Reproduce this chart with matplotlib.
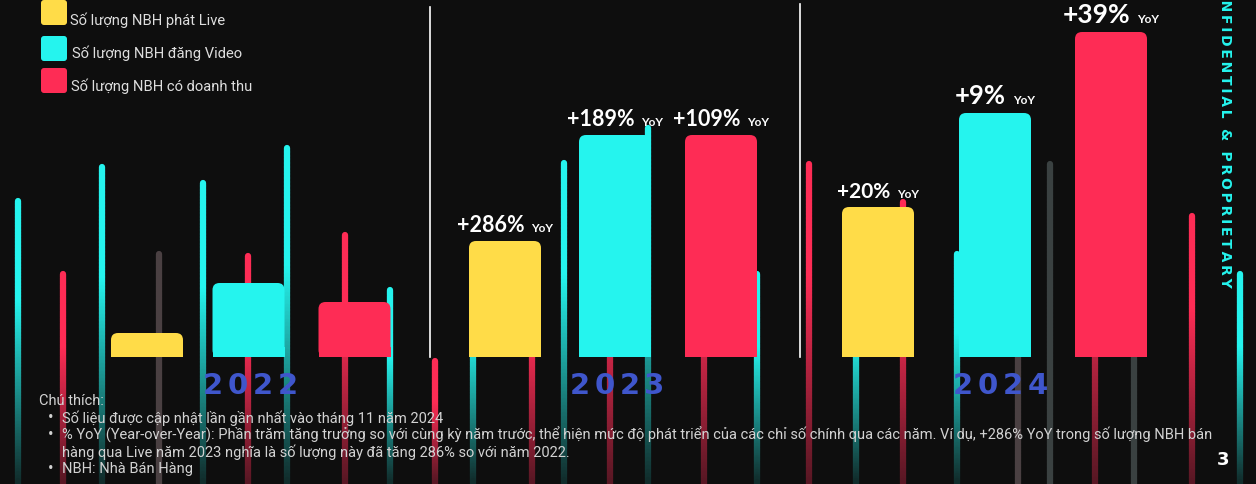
import numpy as np
import matplotlib.pyplot as plt
from matplotlib.patches import FancyBboxPatch
from matplotlib.collections import LineCollection
from matplotlib.colors import to_rgb

# data (bar heights, arbitrary units)
years = ["2022", "2023", "2024"]
series_names = ["Số lượng NBH phát Live", "Số lượng NBH đăng Video", "Số lượng NBH có doanh thu"]
live = [24, 116, 150]
video = [74, 222, 244]
revenue = [55, 222, 325]
yoy_live = ["", "+286%", "+20%"]
yoy_video = ["", "+189%", "+9%"]
yoy_revenue = ["", "+109%", "+39%"]

notes_title = "Chú thích:"
notes = [
    "Số liệu được cập nhật lần gần nhất vào tháng 11 năm 2024",
    "% YoY (Year-over-Year): Phần trăm tăng trưởng so với cùng kỳ năm trước, thể hiện mức độ phát triển của các chỉ số chính qua các năm. Ví dụ, +286% YoY trong số lượng NBH bán\nhàng qua Live năm 2023 nghĩa là số lượng này đã tăng 286% so với năm 2022.",
    "NBH: Nhà Bán Hàng",
]

# decorative background "wicks"
deco_x = [18, 63, 102, 159, 203, 248, 287, 345, 390, 435, 473, 532, 564, 610, 648, 704, 757,
          809, 856, 903, 957, 1018, 1050, 1095, 1134, 1192, 1240]
deco_top = [202, 275, 168, 255, 184, 257, 149, 236, 291, 362, 260, 260, 164, 200, 129, 200, 275,
            165, 260, 203, 255, 200, 165, 150, 150, 217, 275]
deco_kind = ["c", "r", "c", "b", "c", "r", "c", "r", "c", "r", "c", "r", "c", "r", "c", "r", "c",
             "r", "c", "r", "c", "b", "g", "r", "g", "r", "c"]

BG = "#0e0e0e"
CYAN = "#25f4ee"
RED = "#fe2c55"
YELLOW = "#ffdc48"
YEAR_BLUE = "#3f56cc"
W, H = 1256, 485
BASE = 358  # pixel row of the bar baseline

fig = plt.figure(figsize=(W / 100, H / 100), dpi=100, facecolor=BG)
bg = fig.add_axes([0, 0, 1, 1])
bg.set_xlim(0, W)
bg.set_ylim(H, 0)
bg.axis("off")
bg.set_facecolor(BG)

ax = fig.add_axes([0, 0, 1, 1], zorder=2)
ax.set_xlim(0, W)
ax.set_ylim(BASE - H, BASE)
ax.axis("off")
ax.patch.set_visible(False)

# background wicks with a fade towards the bottom
kind_col = {"c": CYAN, "r": RED, "b": "#4a4042", "g": "#3a4141"}
bgc = np.array(to_rgb(BG))
segs, cols = [], []
for x, top, k in zip(deco_x, deco_top, deco_kind):
    ys = np.linspace(top, H, 90)
    base_col = np.array(to_rgb(kind_col[k]))
    start = top + 0.35 * (H - top)
    low = {"c": 0.12, "r": 0.3}.get(k, 1.0)
    for y0, y1 in zip(ys[:-1], ys[1:]):
        f = 1.0 if y0 < start else 1 - (1 - low) * (y0 - start) / (H - start)
        segs.append([(x, y0), (x, y1)])
        cols.append(bgc + (base_col - bgc) * f)
bg.add_collection(LineCollection(segs, colors=cols, linewidths=4.5, capstyle="round", zorder=1))

# year separators
for sx, top in [(430, 8), (800, 5)]:
    bg.plot([sx, sx], [top, BASE], color="white", lw=1.2, zorder=2)

# bars
centers = {"live": [147, 505, 878], "video": [248.5, 615, 995], "revenue": [354.5, 721, 1111]}
bar_w = 72
sizes = {"live": [0, 15.5, 15], "video": [0, 15.5, 18.5], "revenue": [0, 15.5, 19]}
groups = [("live", live, yoy_live, YELLOW), ("video", video, yoy_video, CYAN),
          ("revenue", revenue, yoy_revenue, RED)]

labels = []
for key, vals, yoy, col in groups:
    ax.bar(centers[key], np.minimum(vals, 10), width=bar_w, color=col, align="center", zorder=3)
    for cx, v, lab, fs in zip(centers[key], vals, yoy, sizes[key]):
        ax.add_patch(FancyBboxPatch((cx - bar_w / 2, 0), bar_w, v,
                                    boxstyle="round,pad=0,rounding_size=7",
                                    fc=col, ec="none", zorder=3))
        if lab:
            t1 = ax.text(cx, v + 10, lab, color="white", fontsize=fs, fontweight="bold",
                         family="Lato", ha="left", va="baseline", zorder=5)
            t2 = ax.text(cx, v + 10, "YoY", color="white", fontsize=8.5, fontweight="bold",
                         family="Lato", ha="left", va="baseline", zorder=5)
            labels.append((cx, t1, t2))

fig.canvas.draw()
r = fig.canvas.get_renderer()
for cx, t1, t2 in labels:
    w1 = t1.get_window_extent(r).width
    w2 = t2.get_window_extent(r).width
    left = cx - (w1 + 7 + w2) / 2
    t1.set_x(left)
    t2.set_x(left + w1 + 7)

# year labels, letter-spaced
for yc, yr in zip([250, 617, 1000], years):
    for i, ch in enumerate(yr):
        ax.text(yc + (i - 1.5) * 25, BASE - 386, ch, color=YEAR_BLUE, fontsize=21,
                fontweight="bold", ha="center", va="center", zorder=4)

# legend
for (ly, ty, tx), name, col in zip([(1, 20, 70), (37, 53, 72), (69, 86, 71)], series_names,
                                   [YELLOW, CYAN, RED]):
    bg.add_patch(FancyBboxPatch((41, ly), 26, 25, boxstyle="round,pad=0,rounding_size=3",
                                fc=col, ec="none", zorder=3))
    bg.text(tx, ty, name, color="#dedede", fontsize=10.6, family="Roboto", ha="left",
            va="center", zorder=3)

# notes
note_kw = dict(color="#d2d2d2", fontsize=10.5, family="Roboto", va="center", zorder=3)
bg.text(39, 401, notes_title, ha="left", **note_kw)
for ny, note in zip([418, 435, 469], notes):
    bg.text(51, ny, "•", ha="center", color="#d2d2d2", fontsize=12, family="Roboto",
            va="center", zorder=3)
    first, *rest = note.split("\n")
    bg.text(62, ny, first, ha="left", **note_kw)
    for j, line in enumerate(rest):
        bg.text(62, ny + 17 * (j + 1), line, ha="left", **note_kw)

# side stamp (cut off at the top edge, as on the slide) and page number
stamp = "\u2009".join("CONFIDENTIAL & PROPRIETARY")
bg.text(1225, 288, stamp, color=CYAN, fontsize=10, fontweight="bold", rotation=270,
        rotation_mode="anchor", ha="right", va="center", zorder=3)
bg.text(1223, 460, "3", color="white", fontsize=13, fontweight="bold", ha="center",
        va="center", zorder=3)

fig.savefig("out.png", dpi=100, facecolor=BG)
